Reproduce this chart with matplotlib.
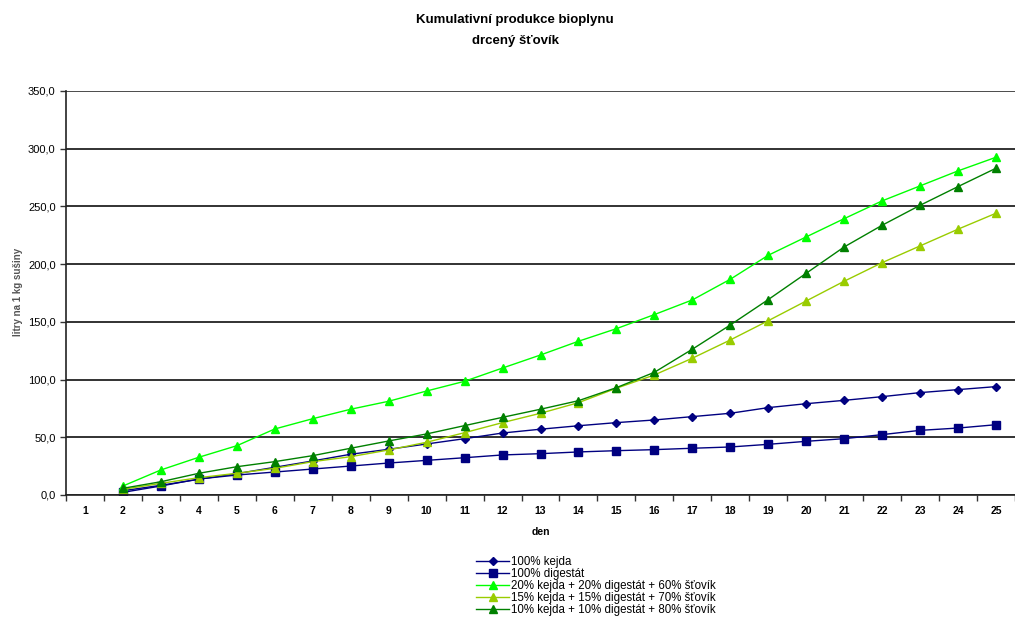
import matplotlib
matplotlib.use('Agg')
import matplotlib.pyplot as plt
from matplotlib.ticker import FuncFormatter

plt.rcParams['font.family'] = ['Liberation Sans', 'DejaVu Sans']

# data
dny = list(range(2, 26))
kejda = [3.7, 8.4, 13.6, 18.5, 24.0, 29.5, 35.3, 39.6, 44.2, 48.8, 53.7, 57.0,
         60.0, 62.7, 65.0, 67.9, 70.8, 75.7, 79.1, 82.0, 85.2, 88.7, 91.3, 93.9]
digestat = [2.3, 7.8, 13.9, 17.3, 19.9, 22.5, 25.1, 27.7, 30.0, 32.3, 34.7, 35.8,
            37.3, 38.4, 39.3, 40.5, 41.6, 43.9, 46.5, 48.8, 52.3, 56.0, 58.0, 60.9]
mix_60 = [7.8, 21.7, 32.7, 42.7, 57.2, 66.1, 74.3, 81.2, 90.1, 98.5, 110.0, 121.3,
          133.2, 144.1, 156.3, 169.0, 186.9, 207.7, 223.6, 239.4, 254.8, 267.8, 280.8, 292.6]
mix_70 = [4.9, 10.1, 15.0, 18.8, 23.1, 28.9, 33.2, 39.0, 45.7, 54.0, 62.7, 70.8,
          80.0, 92.5, 104.0, 118.5, 134.3, 151.0, 168.1, 185.2, 201.3, 215.8, 230.3, 244.1]
mix_80 = [5.8, 11.5, 18.8, 24.5, 28.9, 34.1, 40.5, 46.8, 52.9, 60.1, 67.3, 74.3,
          81.7, 93.0, 106.3, 126.3, 147.3, 169.3, 192.1, 214.9, 233.7, 251.0, 267.2, 283.1]

nazvy = ['100% kejda', '100% digestát',
         '20% kejda + 20% digestát + 60% šťovík',
         '15% kejda + 15% digestát + 70% šťovík',
         '10% kejda + 10% digestát + 80% šťovík']
barvy = ['#000080', '#000080', '#00FF00', '#99CC00', '#008000']
znacky = ['D', 's', '^', '^', '^']
velikosti = [4, 6, 5.5, 5.5, 5.5]

fig = plt.figure(figsize=(10.15, 6.24), dpi=100)
ax = fig.add_axes([66 / 1015, 1 - 495 / 624, 949 / 1015, 404 / 624])

for y, n, c, m, s in zip([kejda, digestat, mix_60, mix_70, mix_80], nazvy, barvy, znacky, velikosti):
    ax.plot(dny, y, color=c, marker=m, markersize=s, linewidth=1.0, label=n)

ax.set_ylim(0, 350)
ax.set_xlim(0.5, 0.5 + 949 / 38.17)
ax.set_yticks(range(0, 351, 50))
ax.yaxis.set_major_formatter(FuncFormatter(lambda v, p: f'{v:.1f}'.replace('.', ',')))
ax.set_xticks(range(1, 26))
ax.set_xticks([i + 0.5 for i in range(0, 26)], minor=True)
ax.tick_params(axis='x', which='major', length=0, labelsize=7.5, pad=8)
ax.tick_params(axis='x', which='minor', length=4, width=1, color='#333333')
ax.tick_params(axis='y', length=4, width=1, labelsize=8, color='#333333')
for lab in ax.get_xticklabels():
    lab.set_fontweight('bold')

ax.grid(axis='y', color='#222222', linewidth=1.3)
ax.set_axisbelow(True)
for side in ['top', 'right']:
    ax.spines[side].set_visible(False)
ax.spines['left'].set_color('#222222')
ax.spines['bottom'].set_color('#222222')
ax.spines['left'].set_linewidth(1.2)
ax.spines['bottom'].set_linewidth(1.2)
ax.axhline(350, color='#555555', linewidth=1.2)

ax.set_xlabel('den', fontsize=7.5, fontweight='bold', labelpad=8)
fig.text(18 / 1015, 1 - 292 / 624, 'litry na 1 kg sušiny', rotation=90, fontsize=7,
         color='#555555', fontweight='bold', ha='center', va='center')

fig.text(515 / 1015, 1 - 20 / 624, 'Kumulativní produkce bioplynu', fontsize=9.5,
         fontweight='bold', ha='center', va='center')
fig.text(515 / 1015, 1 - 41 / 624, 'drcený šťovík', fontsize=9.5,
         fontweight='bold', ha='center', va='center')

fig.legend(loc='upper left', bbox_to_anchor=(476 / 1015, 1 - 556 / 624), frameon=False,
           fontsize=8.3, handlelength=2.9, handletextpad=0.1, labelspacing=0.0,
           borderaxespad=0, borderpad=0)

fig.savefig('out.png', dpi=100)
